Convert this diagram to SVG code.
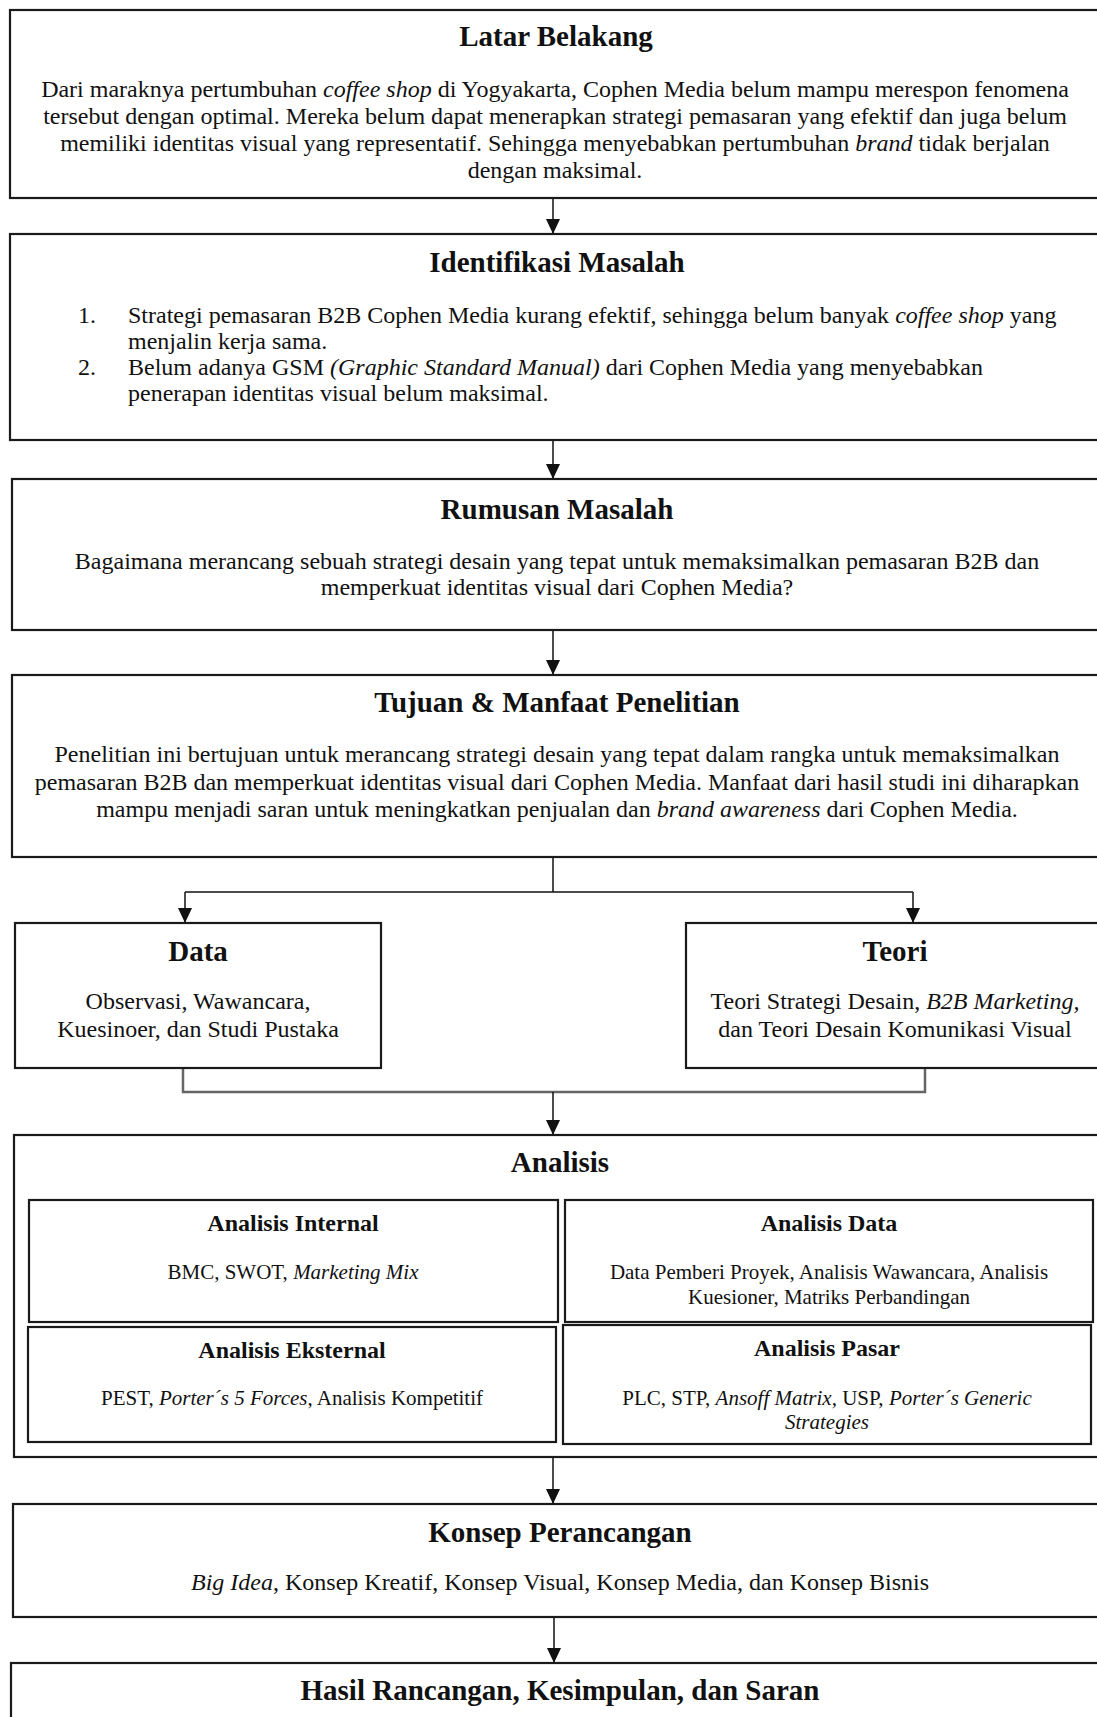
<svg xmlns="http://www.w3.org/2000/svg" width="1097" height="1717" viewBox="0 0 1097 1717">
<style>
text{font-family:"Liberation Serif","Times New Roman",serif;fill:#111}
.t{font-weight:bold;font-size:29px;text-anchor:middle}
.b{font-size:24px;text-anchor:middle}
.l{font-size:24px}
.st{font-weight:bold;font-size:24px;text-anchor:middle}
.sb{font-size:21px;text-anchor:middle}
.i{font-style:italic}
.box{fill:#fff;stroke:#1a1a1a;stroke-width:2.2}
.ln{fill:none;stroke:#111;stroke-width:1.5}
.br{fill:none;stroke:#666;stroke-width:2.5}
</style>
<defs>
<marker id="ah" viewBox="0 0 15 14" refX="15" refY="7" markerWidth="15" markerHeight="14" markerUnits="userSpaceOnUse" orient="auto">
<path d="M0,0 L15,7 L0,14 z" fill="#111"/>
</marker>
</defs>
<rect width="1097" height="1717" fill="#fff"/>

<g id="connectors">
<line class="ln" x1="553" y1="198" x2="553" y2="234" marker-end="url(#ah)"/>
<line class="ln" x1="553" y1="440" x2="553" y2="479" marker-end="url(#ah)"/>
<line class="ln" x1="553" y1="630" x2="553" y2="675" marker-end="url(#ah)"/>
<polyline class="ln" points="553,857 553,892"/>
<polyline class="ln" points="185,892 913,892"/>
<line class="ln" x1="185" y1="892" x2="185" y2="923" marker-end="url(#ah)"/>
<line class="ln" x1="913" y1="892" x2="913" y2="923" marker-end="url(#ah)"/>
<polyline class="br" points="183,1068 183,1092 925,1092 925,1068"/>
<line class="ln" x1="553" y1="1092" x2="553" y2="1135" marker-end="url(#ah)"/>
<line class="ln" x1="553" y1="1457" x2="553" y2="1504" marker-end="url(#ah)"/>
<line class="ln" x1="554" y1="1617" x2="554" y2="1663" marker-end="url(#ah)"/>
</g>

<g id="latar-belakang">
<rect class="box" x="10" y="10" width="1100" height="188"/>
<text class="t" x="556" y="46">Latar Belakang</text>
<text class="b" x="555" y="97">Dari maraknya pertumbuhan <tspan class="i">coffee shop</tspan> di Yogyakarta, Cophen Media belum mampu merespon fenomena</text>
<text class="b" x="555" y="124">tersebut dengan optimal. Mereka belum dapat menerapkan strategi pemasaran yang efektif dan juga belum</text>
<text class="b" x="555" y="151">memiliki identitas visual yang representatif. Sehingga menyebabkan pertumbuhan <tspan class="i">brand</tspan> tidak berjalan</text>
<text class="b" x="555" y="178">dengan maksimal.</text>
</g>

<g id="identifikasi-masalah">
<rect class="box" x="10" y="234" width="1100" height="206"/>
<text class="t" x="557" y="272">Identifikasi Masalah</text>
<text class="l" x="78" y="323">1.</text>
<text class="l" x="128" y="323">Strategi pemasaran B2B Cophen Media kurang efektif, sehingga belum banyak <tspan class="i">coffee shop</tspan> yang</text>
<text class="l" x="128" y="349">menjalin kerja sama.</text>
<text class="l" x="78" y="375">2.</text>
<text class="l" x="128" y="375">Belum adanya GSM <tspan class="i">(Graphic Standard Manual)</tspan> dari Cophen Media yang menyebabkan</text>
<text class="l" x="128" y="401">penerapan identitas visual belum maksimal.</text>
</g>

<g id="rumusan-masalah">
<rect class="box" x="12" y="479" width="1100" height="151"/>
<text class="t" x="557" y="519">Rumusan Masalah</text>
<text class="b" x="557" y="569">Bagaimana merancang sebuah strategi desain yang tepat untuk memaksimalkan pemasaran B2B dan</text>
<text class="b" x="557" y="595">memperkuat identitas visual dari Cophen Media?</text>
</g>

<g id="tujuan-manfaat">
<rect class="box" x="12" y="675" width="1100" height="182"/>
<text class="t" x="557" y="712">Tujuan &amp; Manfaat Penelitian</text>
<text class="b" x="557" y="762">Penelitian ini bertujuan untuk merancang strategi desain yang tepat dalam rangka untuk memaksimalkan</text>
<text class="b" x="557" y="790">pemasaran B2B dan memperkuat identitas visual dari Cophen Media. Manfaat dari hasil studi ini diharapkan</text>
<text class="b" x="557" y="817">mampu menjadi saran untuk meningkatkan penjualan dan <tspan class="i">brand awareness</tspan> dari Cophen Media.</text>
</g>

<g id="data">
<rect class="box" x="15" y="923" width="366" height="145"/>
<text class="t" x="198" y="961">Data</text>
<text class="b" x="198" y="1009">Observasi, Wawancara,</text>
<text class="b" x="198" y="1037">Kuesinoer, dan Studi Pustaka</text>
</g>

<g id="teori">
<rect class="box" x="686" y="923" width="420" height="145"/>
<text class="t" x="895" y="961">Teori</text>
<text class="b" x="895" y="1009">Teori Strategi Desain, <tspan class="i">B2B Marketing,</tspan></text>
<text class="b" x="895" y="1037">dan Teori Desain Komunikasi Visual</text>
</g>

<g id="analisis">
<rect class="box" x="14" y="1135" width="1100" height="322"/>
<text class="t" x="560" y="1172">Analisis</text>
</g>

<g id="analisis-internal">
<rect class="box" x="29" y="1200" width="529" height="122"/>
<text class="st" x="293" y="1231">Analisis Internal</text>
<text class="sb" x="293" y="1279">BMC, SWOT, <tspan class="i">Marketing Mix</tspan></text>
</g>

<g id="analisis-data">
<rect class="box" x="565" y="1200" width="528" height="122"/>
<text class="st" x="829" y="1231">Analisis Data</text>
<text class="sb" x="829" y="1279">Data Pemberi Proyek, Analisis Wawancara, Analisis</text>
<text class="sb" x="829" y="1304">Kuesioner, Matriks Perbandingan</text>
</g>

<g id="analisis-eksternal">
<rect class="box" x="28" y="1327" width="528" height="115"/>
<text class="st" x="292" y="1358">Analisis Eksternal</text>
<text class="sb" x="292" y="1405">PEST, <tspan class="i">Porter´s 5 Forces</tspan>, Analisis Kompetitif</text>
</g>

<g id="analisis-pasar">
<rect class="box" x="563" y="1325" width="528" height="119"/>
<text class="st" x="827" y="1356">Analisis Pasar</text>
<text class="sb" x="827" y="1405">PLC, STP, <tspan class="i">Ansoff Matrix,</tspan> USP, <tspan class="i">Porter´s Generic</tspan></text>
<text class="sb i" x="827" y="1429">Strategies</text>
</g>

<g id="konsep-perancangan">
<rect class="box" x="13" y="1504" width="1100" height="113"/>
<text class="t" x="560" y="1542">Konsep Perancangan</text>
<text class="b" x="560" y="1590"><tspan class="i">Big Idea</tspan>, Konsep Kreatif, Konsep Visual, Konsep Media, dan Konsep Bisnis</text>
</g>

<g id="hasil">
<rect class="box" x="11" y="1663" width="1100" height="100"/>
<text class="t" x="560" y="1700">Hasil Rancangan, Kesimpulan, dan Saran</text>
</g>
</svg>
